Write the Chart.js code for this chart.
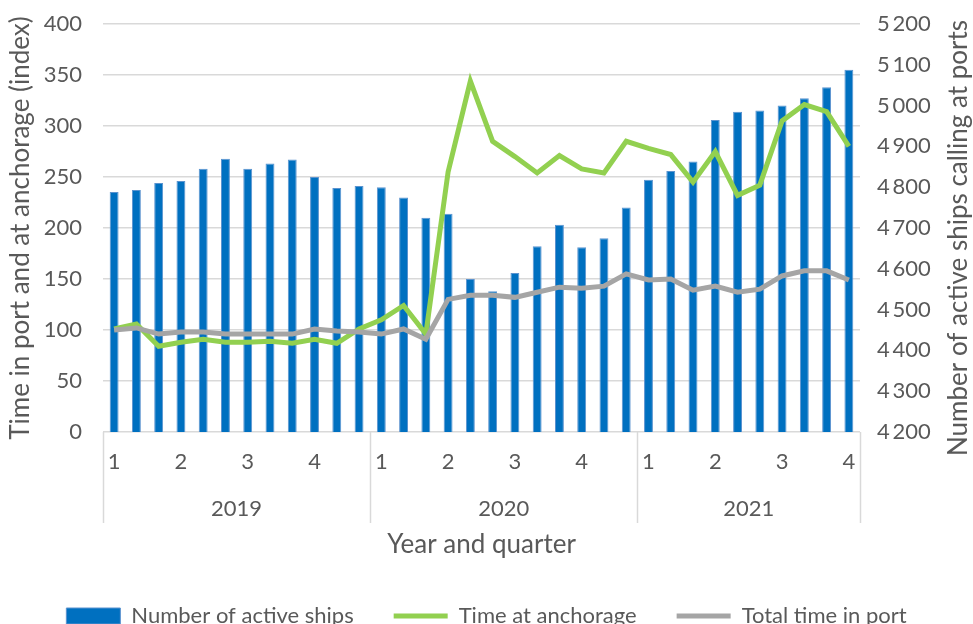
<!DOCTYPE html>
<html>
<head>
<meta charset="utf-8">
<script src="https://cdn.jsdelivr.net/npm/chart.js@4"></script>
<style>
  html, body { margin: 0; padding: 0; background: #fff; }
  #wrap { width: 973px; height: 624px; }
</style>
</head>
<body>
<div id="wrap"><canvas id="myChart"></canvas></div>
<script>
// categories: one per month, labelled by quarter
const quarterLabels = ['1','','','2','','','3','','','4','','',
                       '1','','','2','','','3','','','4','','',
                       '1','','','2','','','3','','','4']
const years = ['2019', '2020', '2021']
const yearCenters = [5.5, 17.5, 28.5]
const yearBounds = [-0.5, 11.5, 23.5, 33.5]

// number of active ships (right axis)
const activeShips = [4788, 4793, 4810, 4815, 4845, 4870, 4845, 4858, 4868, 4825, 4798, 4803,
                     4800, 4775, 4725, 4735, 4575, 4545, 4590, 4655, 4708, 4653, 4675, 4750,
                     4818, 4840, 4863, 4965, 4985, 4988, 5000, 5018, 5045, 5088]
// index values (left axis)
const anchorage = [101, 106, 84, 88, 91, 88, 88, 89, 87, 91, 87, 101,
                   110, 124, 96, 255, 344, 285, 270, 254, 271, 258, 254, 285,
                   278, 272, 245, 275, 232, 242, 305, 321, 314, 280]
const timeInPort = [100, 102, 96, 98, 98, 96, 96, 96, 96, 101, 99, 98,
                    96, 101, 91, 130, 134, 134, 132, 137, 142, 141, 143, 155,
                    149, 150, 139, 143, 137, 140, 153, 158, 158, 149]

const leftTitle = 'Time in port and at anchorage (index)'
const rightTitle = 'Number of active ships calling at ports'

const fontFamily = 'Lato, "Open Sans", sans-serif'
const textColor = '#595959'
const gridColor = '#d9d9d9'

Chart.defaults.font.family = fontFamily
Chart.defaults.color = textColor

function spaced(v) {
    return String(v).replace(/\B(?=(\d{3})+$)/g, '\u2009')
}

// year separators under the axis + right axis title read bottom to top
const extras = {
    id: 'extras',
    afterDraw(chart) {
        const c = chart.ctx
        const x2 = chart.scales.x2
        const area = chart.chartArea
        c.save()
        c.strokeStyle = gridColor
        c.lineWidth = 1.5
        yearBounds.forEach(b => {
            const px = Math.round(x2.getPixelForValue(b)) + 0.5
            c.beginPath()
            c.moveTo(px, area.bottom)
            c.lineTo(px, area.bottom + 91)
            c.stroke()
        })
        const y1 = chart.scales.y1
        c.translate(y1.right - 14, (area.top + area.bottom) / 2 + 10)
        c.rotate(-Math.PI / 2)
        c.fillStyle = textColor
        c.font = '26px ' + fontFamily
        c.textAlign = 'center'
        c.textBaseline = 'middle'
        c.fillText(rightTitle, 0, 0)
        c.restore()
    }
}

var ctx = document.getElementById('myChart')

new Chart(ctx, {
    type: 'bar',
    data: {
        labels: quarterLabels,
        datasets: [{
            label: 'Number of active ships',
            data: activeShips,
            yAxisID: 'y1',
            xAxisID: 'x',
            backgroundColor: '#0070c0',
            borderColor: '#5b93cf',
            borderWidth: 1,
            borderSkipped: 'bottom',
            barPercentage: 0.4,
            categoryPercentage: 1,
            pointStyle: 'rect',
            order: 2
        }, {
            type: 'line',
            label: 'Time at anchorage',
            data: anchorage,
            yAxisID: 'y',
            xAxisID: 'x',
            borderColor: '#92d050',
            backgroundColor: '#92d050',
            borderWidth: 5,
            pointRadius: 0,
            pointStyle: 'line',
            tension: 0,
            order: 1
        }, {
            type: 'line',
            label: 'Total time in port',
            data: timeInPort,
            yAxisID: 'y',
            xAxisID: 'x',
            borderColor: '#a5a5a5',
            backgroundColor: '#a5a5a5',
            borderWidth: 5,
            pointRadius: 0,
            pointStyle: 'line',
            tension: 0,
            order: 0
        }]
    },
    options: {
        responsive: true,
        maintainAspectRatio: false,
        animation: false,
        layout: {
            padding: { top: 24, left: 0, right: 0, bottom: -13 }
        },
        plugins: {
            legend: {
                position: 'bottom',
                labels: {
                    usePointStyle: true,
                    pointStyleWidth: 54,
                    boxHeight: 16,
                    padding: 40,
                    color: textColor,
                    font: { size: 22 },
                    sort: (a, b) => a.datasetIndex - b.datasetIndex
                }
            },
            tooltip: { enabled: false }
        },
        scales: {
            x: {
                type: 'category',
                position: 'bottom',
                offset: true,
                grid: { display: false, drawTicks: false },
                border: { display: false },
                ticks: {
                    autoSkip: false,
                    maxRotation: 0,
                    padding: 17,
                    font: { size: 22 }
                }
            },
            x2: {
                type: 'linear',
                position: 'bottom',
                offset: false,
                min: -0.5,
                max: 33.5,
                grid: { display: false, drawTicks: false },
                border: { display: false },
                afterBuildTicks: (scale) => {
                    scale.ticks = yearCenters.map(v => ({ value: v }))
                },
                ticks: {
                    padding: 3,
                    maxRotation: 0,
                    font: { size: 22 },
                    callback: (v, i) => years[i]
                },
                title: {
                    display: true,
                    text: 'Year and quarter',
                    color: textColor,
                    font: { size: 26 },
                    padding: { top: 4, bottom: 5 }
                }
            },
            y: {
                position: 'left',
                min: 0,
                max: 400,
                grid: { color: gridColor, lineWidth: 1.5, drawTicks: false },
                border: { display: false },
                ticks: {
                    stepSize: 50,
                    padding: 21,
                    font: { size: 22 }
                },
                title: {
                    display: true,
                    text: leftTitle,
                    color: textColor,
                    font: { size: 26 },
                    padding: { top: 5, bottom: 0 }
                },
                afterFit: (scale) => {
                    scale.width = 103
                    scale.paddingTop = 0
                    scale.paddingBottom = 0
                }
            },
            y1: {
                position: 'right',
                min: 4200,
                max: 5200,
                grid: { drawOnChartArea: false, drawTicks: false },
                border: { display: false },
                ticks: {
                    stepSize: 100,
                    padding: 17,
                    font: { size: 22 },
                    callback: (v) => spaced(v)
                },
                afterFit: (scale) => {
                    scale.width = 113
                    scale.paddingTop = 0
                    scale.paddingBottom = 0
                }
            }
        }
    },
    plugins: [extras]
});
</script>
</body>
</html>
